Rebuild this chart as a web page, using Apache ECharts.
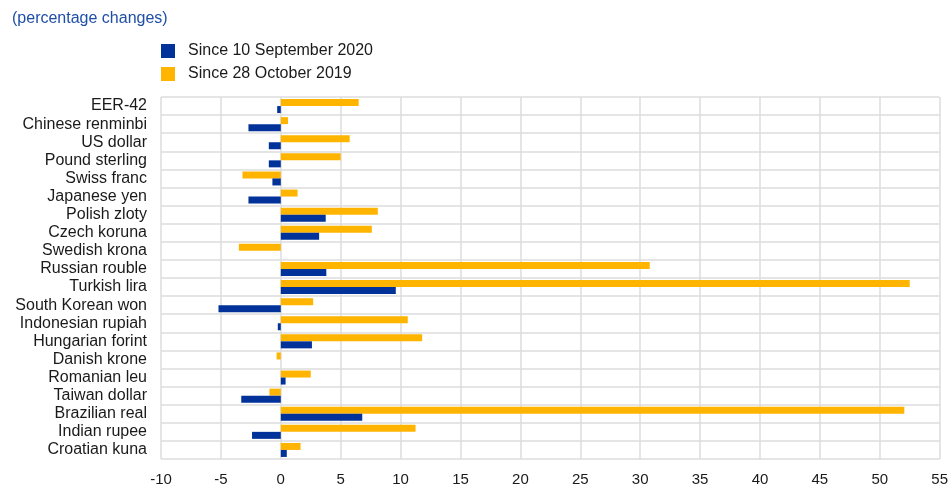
<!DOCTYPE html>
<head>
    <meta charset="utf-8">
    <title>ECharts</title>
    <script src="https://cdn.jsdelivr.net/npm/echarts@6/dist/echarts.min.js"></script>
</head>
<body style="margin:0">
    <div id="container" style="width:951px;height:501px"></div>
    <script type="text/javascript">

        // currencies, top to bottom
        var currencies = ['EER-42', 'Chinese renminbi', 'US dollar', 'Pound sterling', 'Swiss franc',
            'Japanese yen', 'Polish zloty', 'Czech koruna', 'Swedish krona', 'Russian rouble',
            'Turkish lira', 'South Korean won', 'Indonesian rupiah', 'Hungarian forint', 'Danish krone',
            'Romanian leu', 'Taiwan dollar', 'Brazilian real', 'Indian rupee', 'Croatian kuna'];

        var sinceSep2020 = [-0.3, -2.7, -1.0, -1.0, -0.7, -2.7, 3.75, 3.2, 0.0, 3.8,
            9.6, -5.2, -0.25, 2.6, 0.0, 0.4, -3.3, 6.8, -2.4, 0.5];

        var sinceOct2019 = [6.5, 0.6, 5.75, 5.0, -3.2, 1.4, 8.1, 7.6, -3.5, 30.8,
            52.5, 2.7, 10.6, 11.8, -0.35, 2.5, -0.95, 52.05, 11.25, 1.65];

        var xTicks = { min: -10, max: 55, step: 5 };

        var dom = document.getElementById("container");
        var myChart = echarts.init(dom);

        var font = 'Liberation Sans, Arial, sans-serif';

        var option = {
            animation: false,
            title: {
                text: '(percentage changes)',
                left: 7, top: 6,
                textStyle: { color: '#1f4ea8', fontSize: 16, fontWeight: 'normal', fontFamily: font }
            },
            legend: {
                orient: 'vertical',
                left: 156, top: 38,
                itemWidth: 14, itemHeight: 14, itemGap: 7,
                icon: 'rect',
                textStyle: { color: '#1a1a1a', fontSize: 16, fontFamily: font, padding: [0, 0, 0, 8] },
                data: ['Since 10 September 2020', 'Since 28 October 2019']
            },
            grid: { left: 161, right: 10, top: 97, bottom: 42 },
            xAxis: {
                type: 'value',
                min: xTicks.min, max: xTicks.max, interval: xTicks.step,
                axisLine: { show: false },
                axisTick: { show: false },
                axisLabel: { color: '#1a1a1a', fontSize: 15, fontFamily: font, margin: 13 },
                splitLine: { lineStyle: { color: '#dcdcdc', width: 1.5 } }
            },
            yAxis: {
                type: 'category',
                inverse: true,
                data: currencies,
                axisLine: { show: false },
                axisTick: { show: false },
                axisLabel: { color: '#1a1a1a', fontSize: 16, fontFamily: font, margin: 14, interval: 0 },
                splitLine: { show: true, interval: 0, lineStyle: { color: '#dcdcdc', width: 1.5 } }
            },
            // orange listed first so that it sits above the blue bar in each row
            series: [
                {
                    name: 'Since 28 October 2019',
                    type: 'bar',
                    data: sinceOct2019,
                    barWidth: 7, barGap: '0%',
                    itemStyle: { color: '#ffb400' }
                },
                {
                    name: 'Since 10 September 2020',
                    type: 'bar',
                    data: sinceSep2020,
                    barWidth: 7, barGap: '0%',
                    itemStyle: { color: '#003299' }
                }
            ]
        };
        myChart.setOption(option);
    </script>
</body>
